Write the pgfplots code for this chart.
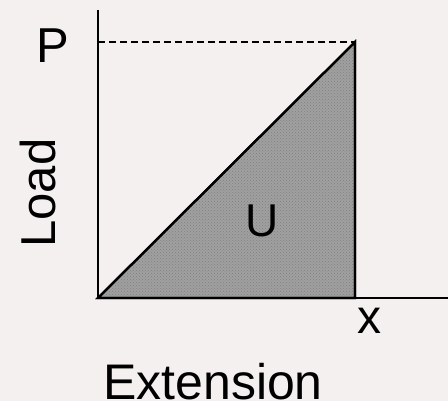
\documentclass[border=0pt]{standalone}
\usepackage{fontspec}
\setmainfont{Liberation Sans}
\usepackage{pgfplots}
\pgfplotsset{compat=1.18}
\usetikzlibrary{patterns}
\definecolor{bg}{RGB}{245,240,240}
\definecolor{fillgray}{RGB}{160,160,160}
\begin{document}
\begin{tikzpicture}
\begin{axis}[
  scale only axis,
  width=350pt, height=288pt,
  xmin=0, xmax=350, ymin=0, ymax=288,
  axis lines=none,
  ticks=none,
  clip=false,
]
% background / bounding box
\fill[bg] (axis cs:-98,-103) rectangle (axis cs:350,298);
\path[use as bounding box] (axis cs:-98,-103) rectangle (axis cs:350,298);
% filled triangle (area U)
\addplot[draw=black, line width=2.3pt, fill=fillgray,
  postaction={pattern=crosshatch dots, pattern color=black!50}]
  coordinates {(0,0) (257,0) (257,256) (0,0)} \closedcycle;
% dashed line at P
\addplot[black, line width=1.5pt, dash pattern=on 7pt off 4pt]
  coordinates {(0,256) (257,256)};
% axes
\addplot[black, line width=2.3pt] coordinates {(0,288) (0,0) (350,0)};
% labels
\node[inner sep=0pt, font=\fontsize{49}{55}\selectfont] at (axis cs:-45,252.5) {P};
\node[inner sep=0pt, font=\fontsize{49}{55}\selectfont, rotate=90] at (axis cs:-60.5,105) {Load};
\node[inner sep=0pt, anchor=base, font=\fontsize{50}{55}\selectfont] at (axis cs:115,-102) {Extension};
\node[inner sep=0pt, font=\fontsize{48}{55}\selectfont] at (axis cs:272,-23) {x};
\node[inner sep=0pt, font=\fontsize{46}{55}\selectfont] at (axis cs:164.5,77.5) {U};
\end{axis}
\end{tikzpicture}
\end{document}
